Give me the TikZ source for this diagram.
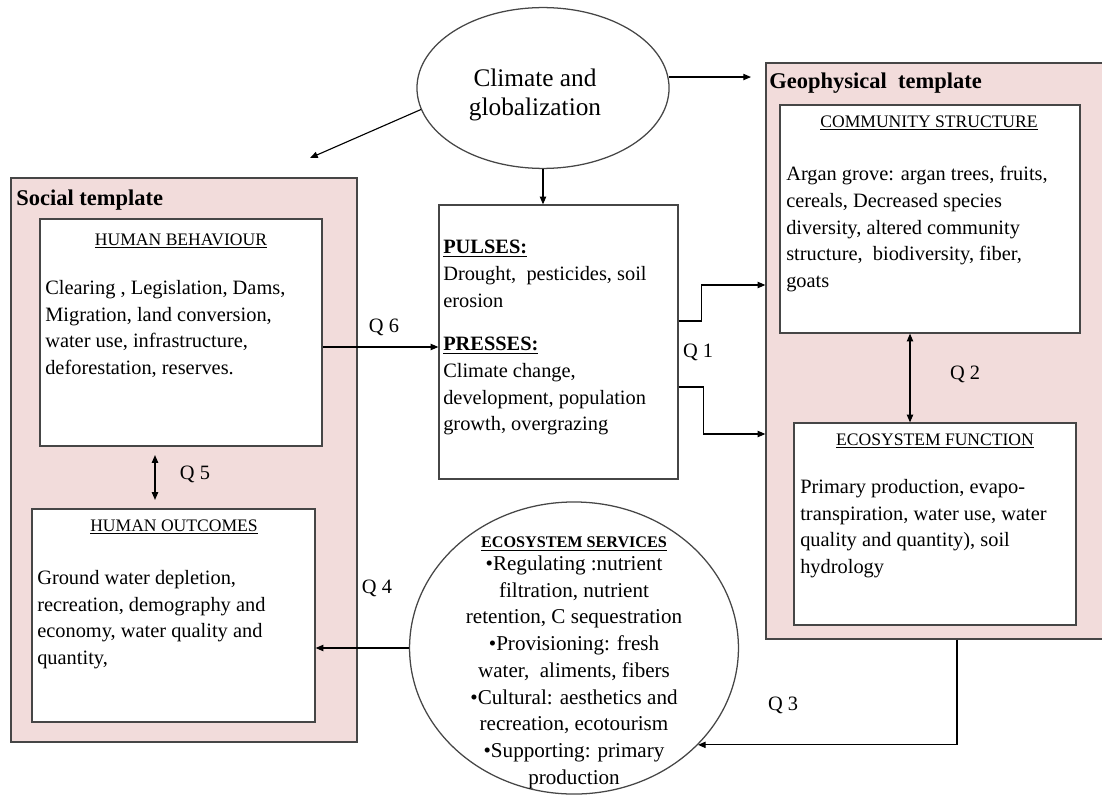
\documentclass[tikz,border=0pt]{standalone}
\usepackage{fontspec}
\setmainfont{Liberation Serif}
\usetikzlibrary{arrows.meta,shapes.geometric,fit}
\definecolor{tplpink}{RGB}{242,220,219}
\definecolor{edgegray}{RGB}{70,70,70}
\newcommand{\bodyfont}{\fontsize{14.5}{19}\selectfont}
\newcommand{\headfont}{\fontsize{12.5}{15}\selectfont}
\newcommand{\titlefont}{\bfseries\fontsize{16}{19}\selectfont}

\begin{document}
\begin{tikzpicture}[x=0.025cm,y=-0.025cm,
  tmpl/.style={draw=edgegray,line width=0.9pt,fill=tplpink,inner sep=0pt},
  box/.style={draw=edgegray,line width=0.9pt,fill=white,inner sep=0pt},
  head/.style={font=\headfont,inner sep=0pt},
  txt/.style={font=\bodyfont,align=left,anchor=north west,inner sep=0pt},
  ttl/.style={font=\titlefont,anchor=west,inner sep=0pt},
  lbl/.style={font=\bodyfont,inner sep=0pt},
  arr/.style={-{Triangle[length=5.5pt,width=4.5pt]},line width=0.8pt},
  dbl/.style={{Triangle[length=5.5pt,width=4.5pt]}-{Triangle[length=5.5pt,width=4.5pt]},line width=0.8pt}]
\useasboundingbox (0,0) rectangle (1102,794);
\clip (0,0) rectangle (1102,794);

% templates
\node[tmpl,fit={(11,178) (357,742)}] (soc) {};
\node[tmpl,fit={(766,63) (1112,639)}] (geo) {};
\node[ttl] (soctitle) at (16,200) {Social template};
\node[ttl] (geotitle) at (769,83) {Geophysical~~template};

% boxes
\node[box,fit={(40,219) (322,446)}] (hb) {};
\node[box,fit={(32,509) (315,722)}] (ho) {};
\node[box,fit={(439,205) (678,479)}] (pul) {};
\node[box,fit={(780,105) (1080,333)}] (cs) {};
\node[box,fit={(794,423) (1076,625)}] (ef) {};

\node[head] (hbhead) at (181,241) {\underline{HUMAN BEHAVIOUR}};
\node[head] (hohead) at (174,527) {\underline{HUMAN OUTCOMES}};
\node[head] (cshead) at (929,123) {\underline{COMMUNITY STRUCTURE}};
\node[head] (efhead) at (935,441) {\underline{ECOSYSTEM FUNCTION}};

\node[txt] (hbtxt) at (45,280) {Clearing , Legislation, Dams,\\Migration, land conversion,\\water use, infrastructure,\\deforestation, reserves.};
\node[txt] (hotxt) at (37,570) {Ground water depletion,\\recreation, demography and\\economy, water quality and\\quantity,};
\node[txt] (pultxt) at (443,240) {\textbf{\underline{PULSES:}}\\Drought,\ \ pesticides, soil\\erosion\\[12pt]\textbf{\underline{PRESSES:}}\\Climate change,\\development, population\\growth, overgrazing};
\node[txt] (cstxt) at (786,166) {Argan grove: argan trees, fruits,\\cereals, Decreased species\\diversity, altered community\\structure,\ \ biodiversity, fiber,\\goats};
\node[txt] (eftxt) at (800,479) {Primary production, evapo-\\transpiration, water use, water\\quality and quantity), soil\\hydrology};

% ellipses
\node[draw=edgegray,line width=0.9pt,ellipse,minimum width=6.3cm,minimum height=4.02cm] (clim) at (543,88) {};
\node[font=\fontsize{18}{20}\selectfont,align=center,inner sep=0pt] (climtxt) at (535,95) {Climate and\\globalization};
\node[draw=edgegray,line width=0.9pt,ellipse,minimum width=8.22cm,minimum height=7.3cm] (svc) at (574,648) {};
\node[font=\fontsize{15}{19}\selectfont,align=center,anchor=north,inner sep=0pt] (svctxt) at (574,537)
  {{\fontsize{11.5}{13}\selectfont\textbf{\underline{ECOSYSTEM SERVICES}}}\\[-3pt]
   •Regulating :nutrient\\filtration, nutrient\\retention, C sequestration\\
   •Provisioning: fresh\\water,\ \ aliments, fibers\\•Cultural: aesthetics and\\
   recreation, ecotourism\\•Supporting: primary\\production};

% connectors
\coordinate (socin) at (310,158);
\draw[arr] (clim.190) -- (socin);
\draw[arr] (clim.5) -- (clim.5 -| 751,0);
\draw[arr] (clim.south) -- (clim.south |- pul.north);
\draw[arr] (hb.east |- 0,347) -- (pul.west |- 0,347);
\draw[arr] (pul.east |- 0,321) -- ++(23,0) |- (geo.west |- 0,285);
\draw[arr] (pul.east |- 0,387) -- ++(25,0) |- (geo.west |- 0,434);
\draw[dbl] (cs.south -| 910,0) -- (ef.north -| 910,0);
\draw[arr] (geo.south -| 957,0) |- (svc.-38);
\draw[arr] (svc.west) -- (svc.west -| ho.east);
\draw[dbl,shorten <=6pt,shorten >=6pt] (hb.south -| 155,0) -- (ho.north -| 155,0);

\node[lbl] (q1) at (698,352) {Q 1};
\node[lbl] (q2) at (965,374) {Q 2};
\node[lbl] (q3) at (783,705) {Q 3};
\node[lbl] (q4) at (377,588) {Q 4};
\node[lbl] (q5) at (195,474) {Q 5};
\node[lbl] (q6) at (384,327) {Q 6};
\end{tikzpicture}
\end{document}
